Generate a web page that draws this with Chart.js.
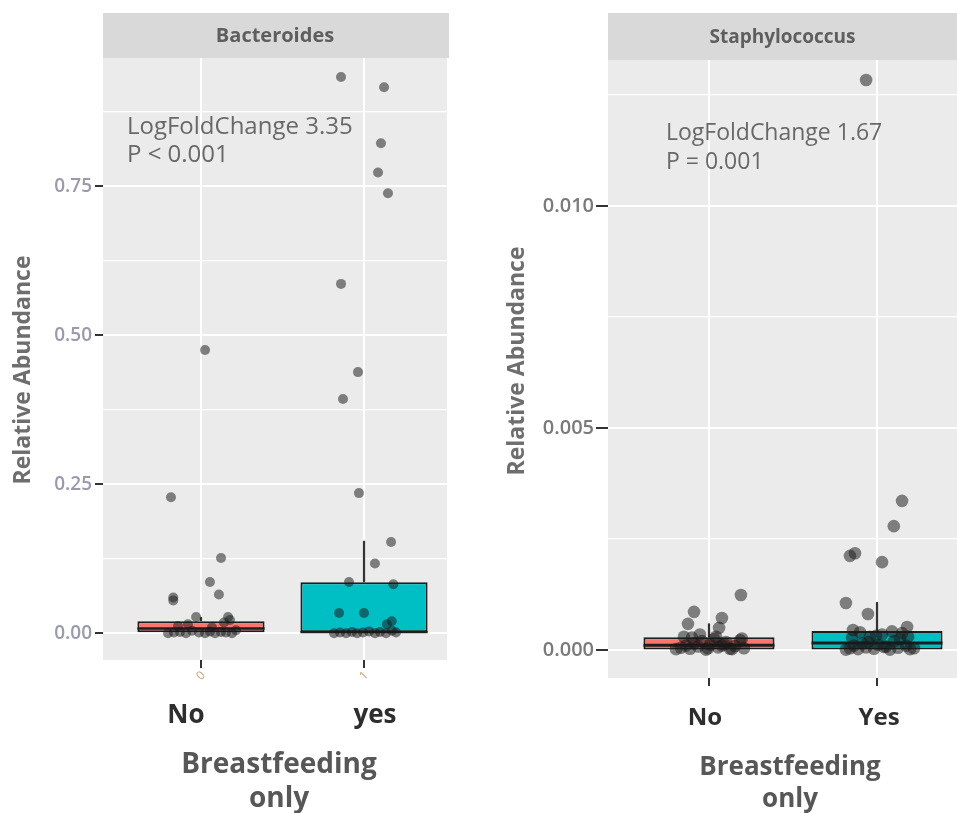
<!DOCTYPE html>
<html><head><meta charset="utf-8">
<script src="https://cdn.jsdelivr.net/npm/chart.js@4.4.1/dist/chart.umd.min.js"></script>
<style>
html,body{margin:0;padding:0;background:#fff;overflow:hidden;width:957px;height:813px;}
#wrapL{position:absolute;left:0;top:0;width:460px;height:813px;}
#wrapR{position:absolute;left:460px;top:0;width:497px;height:813px;}
</style></head><body>
<div id="wrapL"><canvas id="cL" width="460" height="813"></canvas></div>
<div id="wrapR"><canvas id="cR" width="497" height="813"></canvas></div>
<script>
// ---------- DATA ----------
const groupsLeft = ['No', 'yes'];
const groupsRight = ['No', 'Yes'];
const rawCodes = ['0', '1'];
const xTitleLines = ['Breastfeeding', 'only'];
const yTitle = 'Relative Abundance';

const leftYTicks = [0, 0.125, 0.25, 0.375, 0.5, 0.625, 0.75, 0.875];
const leftYTickLabels = ['0.00', '', '0.25', '', '0.50', '', '0.75', ''];
const rightYTicks = [0, 0.0025, 0.005, 0.0075, 0.01, 0.0125];
const rightYTickLabels = ['0.000', '', '0.005', '', '0.010', ''];

// box stats: [q1, median, q3, upper whisker]
const bactBoxNo  = [0, 0.008, 0.02, 0.027];
const bactBoxYes = [0, 0.002, 0.0856, 0.155];
const staphBoxNo  = [0.00001, 0.00011, 0.00029, 0.0006];
const staphBoxYes = [0.00001, 0.00016, 0.00043, 0.00108];

// jittered points (x = group position + jitter, y = relative abundance)
const bactNoX = [1.025, 0.816, 1.123, 1.055, 1.11, 0.83, 0.83, 0.97, 1.166,
  0.798, 0.834, 0.871, 0.908, 0.945, 0.988, 1.025, 1.055, 1.086, 1.123, 1.153, 1.19, 1.215, 0.859, 0.92, 1.067, 1.141, 1.178];
const bactNoY = [0.475, 0.228, 0.126, 0.086, 0.065, 0.060, 0.055, 0.027, 0.027,
  0.000, 0.001, 0.002, 0.000, 0.004, 0.001, 0.000, 0.003, 0.000, 0.002, 0.001, 0.000, 0.005, 0.012, 0.015, 0.010, 0.018, 0.022];
const bactYesX = [1.859, 2.123, 2.104, 2.086, 2.147, 1.859, 1.963, 1.871, 1.969, 2.166, 2.067, 1.908, 2.18, 1.847, 2.0, 2.17, 2.14,
  1.816, 1.853, 1.89, 1.926, 1.957, 1.994, 2.031, 2.067, 2.098, 2.135, 2.172, 2.196];
const bactYesY = [0.933, 0.916, 0.822, 0.773, 0.738, 0.586, 0.438, 0.393, 0.235, 0.153, 0.117, 0.086, 0.082, 0.034, 0.034, 0.02, 0.015,
  0.000, 0.001, 0.000, 0.002, 0.000, 0.001, 0.003, 0.000, 0.002, 0.000, 0.004, 0.001];

const staphNoX = [1.19, 0.911, 1.077, 0.875, 1.06,
  0.804, 0.833, 0.863, 0.887, 0.911, 0.935, 0.958, 0.982, 1.006, 1.03, 1.054, 1.077, 1.101, 1.125, 1.155, 1.185, 1.208,
  0.851, 0.899, 0.946, 0.994, 1.042, 1.089, 1.137, 1.196];
const staphNoY = [0.00124, 0.00086, 0.00072, 0.00059, 0.0005,
  0.00002, 0.00005, 0.0001, 0.00003, 0.00015, 0.00008, 0.0002, 0.00001, 0.00012, 0.00025, 0.00006, 0.0001, 0.00018, 0.00003, 0.00009, 0.00022, 0.00004,
  0.0003, 0.00028, 0.00035, 0.00004, 0.0003, 0.00013, 0.00002, 0.00026];
const staphYesX = [1.935, 2.149, 2.10, 1.869, 1.839, 2.03, 1.815, 1.946, 2.179, 1.857,
  1.815, 1.839, 1.863, 1.887, 1.911, 1.935, 1.958, 1.982, 2.006, 2.03, 2.054, 2.077, 2.101, 2.125, 2.149, 2.173, 2.196, 2.22,
  1.851, 1.899, 1.946, 1.994, 2.042, 2.089, 2.137, 2.185];
const staphYesY = [0.01284, 0.00336, 0.00279, 0.00218, 0.00212, 0.00198, 0.00106, 0.00081, 0.00052, 0.00045,
  0.00001, 0.00004, 0.0001, 0.00002, 0.00015, 0.00006, 0.0003, 0.00003, 0.00012, 0.00035, 0.00008, 0.00001, 0.0002, 0.00005, 0.00038, 0.0001, 0.00002, 0.00004,
  0.00028, 0.0004, 0.00018, 0.00032, 0.00007, 0.00042, 0.00025, 0.0003];

const bactNote = ['LogFoldChange 3.35', 'P < 0.001'];
const staphNote = ['LogFoldChange 1.67', 'P = 0.001'];

// ---------- DRAWING ----------
const FILLS = ['#F8766D', '#00BFC4'];
const BOX_FRAC = 0.78;
const FONT = "'Open Sans', 'DejaVu Sans', sans-serif";

function zip(xs, ys) { return xs.map((x, i) => ({ x: x, y: ys[i] })); }

function makeChart(canvasId, c) {
  const h = BOX_FRAC / 2;
  const datasets = [];
  datasets.push({
    type: 'bar',
    data: c.boxes.map((b, i) => ({ x: i + 1, y: [b[0], b[2]] })),
    backgroundColor: FILLS,
    borderColor: '#1e1e1e',
    borderWidth: 2,
    borderSkipped: false,
    categoryPercentage: 1,
    barPercentage: BOX_FRAC,
    order: 3
  });
  c.boxes.forEach((b, i) => {
    datasets.push({
      type: 'line',
      data: [{ x: i + 1, y: b[2] }, { x: i + 1, y: b[3] }],
      borderColor: '#333', borderWidth: 2.2, pointRadius: 0, fill: false, order: 4
    });
    datasets.push({
      type: 'line',
      data: [{ x: i + 1 - h, y: b[1] }, { x: i + 1 + h, y: b[1] }],
      borderColor: '#1e1e1e', borderWidth: c.medianWidth, pointRadius: 0, fill: false, order: 2
    });
  });
  c.points.forEach(p => {
    datasets.push({
      type: 'scatter',
      data: zip(p[0], p[1]),
      pointRadius: c.pointRadius,
      pointBackgroundColor: 'rgba(25,25,25,0.52)',
      pointBorderWidth: 0,
      order: 0
    });
  });

  const panelPlugin = {
    id: 'panel',
    beforeDraw(chart) {
      const ctx = chart.ctx, a = chart.chartArea;
      ctx.save();
      ctx.fillStyle = '#ffffff';
      ctx.fillRect(0, 0, chart.width, chart.height);
      ctx.fillStyle = '#ebebeb';
      ctx.fillRect(a.left, a.top, a.right - a.left, a.bottom - a.top);
      ctx.fillStyle = '#d9d9d9';
      ctx.fillRect(a.left, c.stripTop, a.right - a.left + c.stripExtra, a.top - c.stripTop);
      ctx.fillStyle = '#5e5e5e';
      ctx.font = 'bold ' + c.stripFont + 'px ' + FONT;
      ctx.textAlign = 'center';
      ctx.textBaseline = 'middle';
      ctx.fillText(c.strip, (a.left + a.right) / 2, (c.stripTop + a.top) / 2 + 1);
      ctx.restore();
    },
    afterDraw(chart) {
      const ctx = chart.ctx, xs = chart.scales.x, ys = chart.scales.y, a = chart.chartArea;
      ctx.save();
      // annotation
      ctx.fillStyle = '#686868';
      ctx.font = c.noteFont + 'px ' + FONT;
      ctx.textAlign = 'left';
      ctx.textBaseline = 'middle';
      const nx = xs.getPixelForValue(c.noteX), ny = ys.getPixelForValue(c.noteY);
      c.note.forEach((t, i) => ctx.fillText(t, nx, ny + i * c.noteLine));
      // small raw codes under ticks
      if (c.rawCodes) {
        ctx.fillStyle = '#cfa57c';
        ctx.font = '12px ' + FONT;
        c.rawCodes.forEach((t, i) => {
          const px = xs.getPixelForValue(i + 1);
          ctx.save();
          ctx.translate(px, a.bottom + 16);
          ctx.rotate(-Math.PI / 4);
          ctx.textAlign = 'center';
          ctx.fillText(t, 0, 0);
          ctx.restore();
        });
      }
      // category labels
      ctx.fillStyle = '#2e2e2e';
      ctx.font = 'bold ' + c.catFont + 'px ' + FONT;
      ctx.textAlign = 'center';
      ctx.textBaseline = 'alphabetic';
      c.groups.forEach((g, i) => ctx.fillText(g, xs.getPixelForValue(c.catX[i]), c.catBaseline));
      // x axis title
      ctx.fillStyle = '#575757';
      ctx.font = 'bold ' + c.xTitleFont + 'px ' + FONT;
      xTitleLines.forEach((t, i) => ctx.fillText(t, c.xTitleX, c.xTitleBaselines[i]));
      // y axis title
      ctx.fillStyle = '#6e6e6e';
      ctx.font = 'bold ' + c.yTitleFont + 'px ' + FONT;
      ctx.textBaseline = 'middle';
      ctx.translate(c.yTitleX, c.yTitleY);
      ctx.rotate(-Math.PI / 2);
      ctx.fillText(yTitle, 0, 0);
      ctx.restore();
    }
  };

  return new Chart(document.getElementById(canvasId), {
    type: 'scatter',
    data: { datasets: datasets },
    plugins: [panelPlugin],
    options: {
      responsive: false,
      animation: false,
      events: [],
      layout: { padding: c.padding, autoPadding: false },
      plugins: { legend: { display: false }, tooltip: { enabled: false } },
      scales: {
        x: {
          type: 'linear', min: c.xMin, max: c.xMax, offset: false,
          afterBuildTicks: s => { s.ticks = c.groups.map((g, i) => ({ value: i + 1 })); },
          afterFit: s => { s.height = c.xAxisH; },
          ticks: { display: false },
          grid: { color: '#ffffff', lineWidth: 2, offset: false, drawTicks: true, tickLength: 8, tickColor: '#333', tickWidth: 2 },
          border: { display: false },
          title: { display: false }
        },
        y: {
          type: 'linear', min: c.yMin, max: c.yMax,
          afterBuildTicks: s => { s.ticks = c.yTicks.map(v => ({ value: v })); },
          afterFit: s => { s.width = c.yAxisW; },
          ticks: {
            callback: (v, i) => c.yTickLabels[i],
            autoSkip: false, padding: c.yTickPad,
            color: c.yTickColor, font: { family: FONT, size: c.yTickFont, weight: c.yTickWeight }
          },
          grid: {
            color: '#ffffff',
            lineWidth: ctx => (c.yTickLabels[ctx.index] ? 2 : 1.2),
            drawTicks: true, tickLength: c.yTickLen,
            tickColor: ctx => (c.yTickLabels[ctx.index] ? '#333' : 'rgba(0,0,0,0)'),
            tickWidth: 2
          },
          border: { display: false },
          title: { display: false }
        }
      }
    }
  });
}

makeChart('cL', {
  groups: groupsLeft, rawCodes: rawCodes,
  boxes: [bactBoxNo, bactBoxYes],
  points: [[bactNoX, bactNoY], [bactYesX, bactYesY]],
  yTicks: leftYTicks, yTickLabels: leftYTickLabels,
  yMin: -0.045, yMax: 0.965, xMin: 0.399, xMax: 2.509,
  padding: { left: 0, top: 58, right: 13, bottom: 0 },
  yAxisW: 103, xAxisH: 153,
  yTickColor: '#9a9aae', yTickFont: 19, yTickWeight: '600', yTickPad: 3, yTickLen: 8,
  strip: 'Bacteroides', stripTop: 13, stripFont: 20, stripExtra: 2,
  note: bactNote, noteX: 0.546, noteY: 0.849, noteLine: 28, noteFont: 24,
  catX: [0.908, 2.067], catBaseline: 723, catFont: 26,
  xTitleX: 279, xTitleBaselines: [773, 807], xTitleFont: 28,
  yTitleX: 23, yTitleY: 370, yTitleFont: 23,
  pointRadius: 5, medianWidth: 2.5
});

makeChart('cR', {
  groups: groupsRight, rawCodes: null,
  boxes: [staphBoxNo, staphBoxYes],
  points: [[staphNoX, staphNoY], [staphYesX, staphYesY]],
  yTicks: rightYTicks, yTickLabels: rightYTickLabels,
  yMin: -0.00063, yMax: 0.01329, xMin: 0.399, xMax: 2.476,
  padding: { left: 0, top: 60, right: 0, bottom: 0 },
  yAxisW: 148, xAxisH: 135,
  yTickColor: '#7a7a7a', yTickFont: 20, yTickWeight: '600', yTickPad: 2, yTickLen: 12,
  strip: 'Staphylococcus', stripTop: 13, stripFont: 19, stripExtra: 0,
  note: staphNote, noteX: 0.744, noteY: 0.01164, noteLine: 29, noteFont: 23,
  catX: [0.976, 2.012], catBaseline: 725, catFont: 24,
  xTitleX: 330, xTitleBaselines: [775, 807], xTitleFont: 26,
  yTitleX: 57, yTitleY: 361, yTitleFont: 23,
  pointRadius: 6.3, medianWidth: 3
});
</script>
</body></html>
